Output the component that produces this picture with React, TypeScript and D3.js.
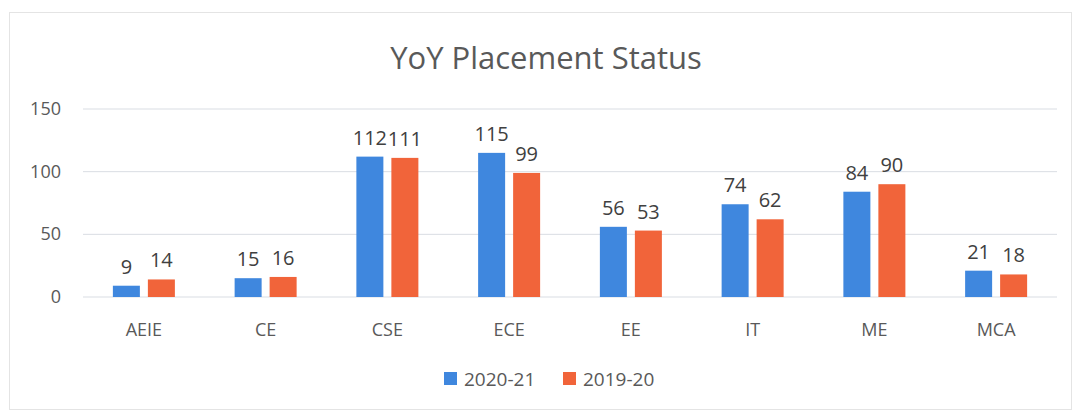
import React from "react";
import * as d3 from "d3";

const categories = ["AEIE", "CE", "CSE", "ECE", "EE", "IT", "ME", "MCA"];
const series2020_21 = [9, 15, 112, 115, 56, 74, 84, 21];
const series2019_20 = [14, 16, 111, 99, 53, 62, 90, 18];
const seriesNames = ["2020-21", "2019-20"];
const yTicks = [0, 50, 100, 150];

const W = 1076;
const H = 412;
const FONT = "'Open Sans', 'Liberation Sans', sans-serif";
const TEXT = "#595959";
const COLORS = ["#3f87de", "#f1643a"];

export default function App() {
  const margin = { left: 83, right: 1057, top: 109, bottom: 297 };
  const x = d3.scaleBand<string>().domain(categories).range([margin.left, margin.right]);
  const y = d3.scaleLinear().domain([0, 150]).range([margin.bottom, margin.top]);
  const barW = 27;
  const gap = 8;
  const data = [series2020_21, series2019_20];

  return (
    <svg width={W} height={H} style={{ position: "absolute", left: 0, top: 0, background: "#fff" }}>
      <rect x={9.5} y={12.5} width={1062} height={397} fill="#fff" stroke="#e4e4e4" />
      <text x={546} y={69} textAnchor="middle" fontFamily={FONT} fontSize={31} fill={TEXT}>
        YoY Placement Status
      </text>
      {yTicks.map((t) => (
        <g key={t}>
          <line x1={margin.left} x2={margin.right} y1={y(t)} y2={y(t)} stroke="#d9dde3" strokeWidth={1} />
          <text x={61} y={y(t) + 6} textAnchor="end" fontFamily={FONT} fontSize={18} fill={TEXT}>
            {t}
          </text>
        </g>
      ))}
      {categories.map((c, i) => {
        const cx = (x(c) as number) + x.bandwidth() / 2;
        return (
          <g key={c}>
            {data.map((s, k) => {
              const bx = k === 0 ? cx - gap / 2 - barW : cx + gap / 2;
              return (
                <g key={k}>
                  <rect x={bx} y={y(s[i])} width={barW} height={y(0) - y(s[i])} fill={COLORS[k]} />
                  <text
                    x={bx + barW / 2}
                    y={y(s[i]) - 12}
                    textAnchor="middle"
                    fontFamily={FONT}
                    fontSize={20}
                    fill="#404040"
                  >
                    {s[i]}
                  </text>
                </g>
              );
            })}
            <text x={cx} y={336} textAnchor="middle" fontFamily={FONT} fontSize={18} fill={TEXT}>
              {c}
            </text>
          </g>
        );
      })}
      {seriesNames.map((n, k) => {
        const lx = k === 0 ? 444 : 563;
        return (
          <g key={n}>
            <rect x={lx} y={372} width={13} height={13} fill={COLORS[k]} />
            <text x={lx + 20} y={386} fontFamily={FONT} fontSize={19} fill={TEXT}>
              {n}
            </text>
          </g>
        );
      })}
    </svg>
  );
}
